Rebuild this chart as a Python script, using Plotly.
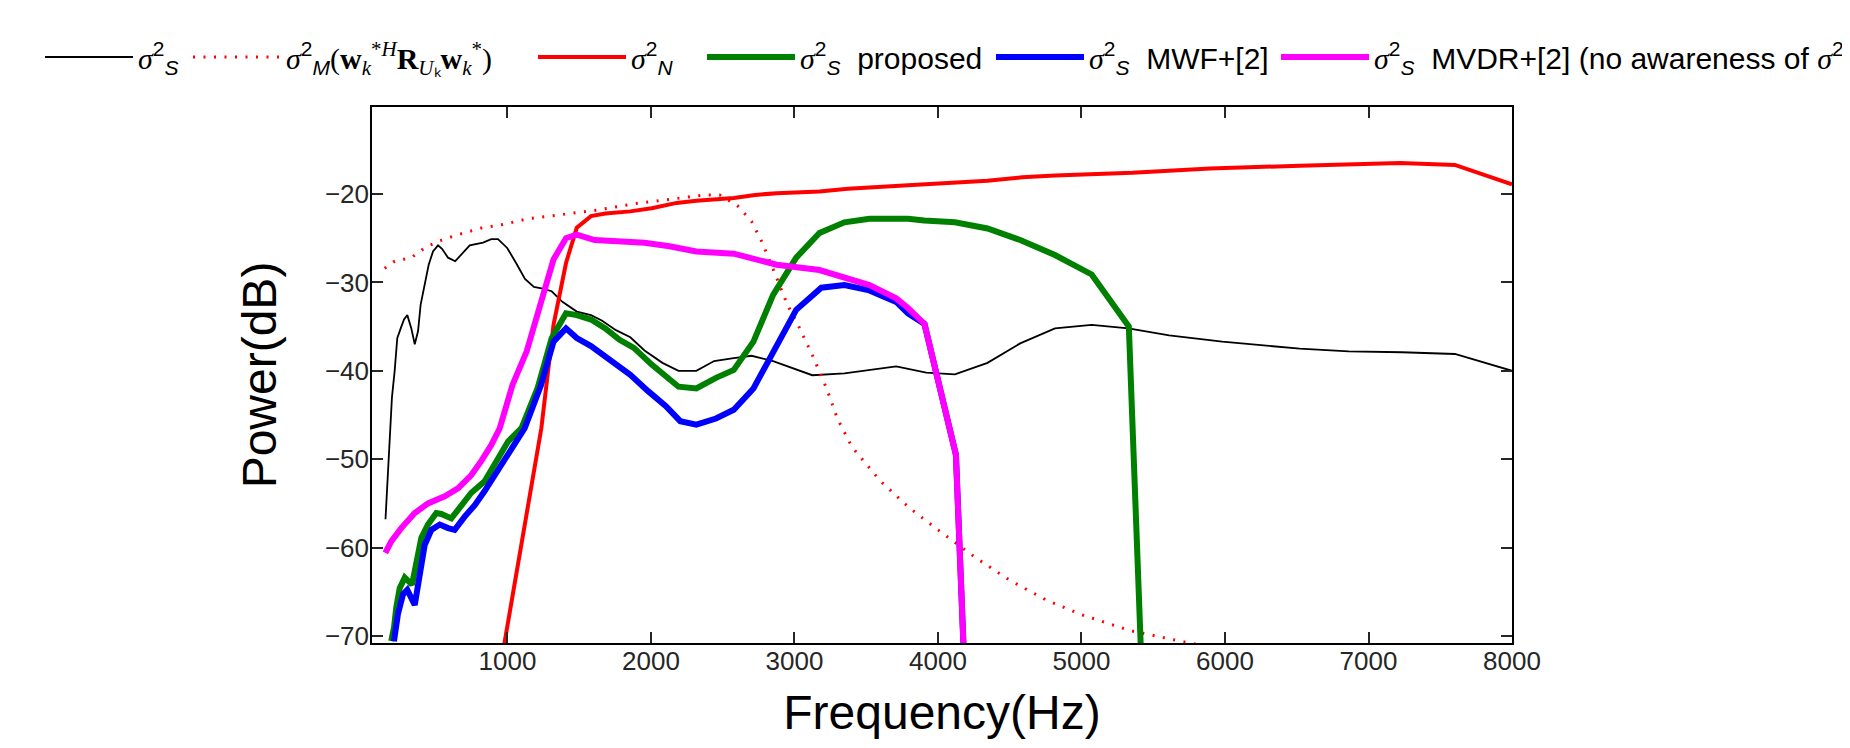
import plotly.graph_objects as go

# ---------------- data ----------------
f_sigS = [150, 180, 195, 214, 232, 256, 279, 302, 330, 354, 377, 395, 423, 451, 481, 516, 544, 586, 636, 683,
          737, 830, 887, 934, 998, 1060, 1122, 1184, 1246, 1308, 1383, 1483, 1582, 1657, 1756, 1856, 1955, 2080,
          2192, 2316, 2440, 2565, 2701, 2851, 3000, 3124, 3348, 3522, 3709, 3918, 4118, 4345, 4573, 4815, 5071,
          5327, 5611, 5981, 6521, 6862, 7232, 7602, 8000]
p_sigS = [-56.8, -46.5, -43.0, -40.0, -36.3, -35.2, -34.2, -33.7, -35.2, -37.0, -35.5, -32.5, -30.3, -28.0, -26.5,
          -25.8, -26.2, -27.2, -27.6, -26.8, -25.8, -25.5, -25.1, -25.1, -26.1, -27.8, -29.6, -30.5, -30.7, -31.0,
          -32.2, -33.3, -33.7, -34.3, -35.4, -36.2, -37.7, -39.1, -40.0, -40.0, -38.9, -38.6, -38.3, -38.9, -39.8,
          -40.5, -40.3, -39.9, -39.5, -40.2, -40.4, -39.1, -36.9, -35.2, -34.8, -35.2, -36.0, -36.7, -37.5, -37.8,
          -37.9, -38.1, -40.0]

f_sigM = [144, 214, 330, 423, 516, 655, 818, 981, 1143, 1400, 1632, 1881, 2129, 2378, 2478, 2602, 2701, 2776,
          2876, 2950, 3025, 3124, 3224, 3299, 3400, 3600, 3800, 4000, 4250, 4500, 4750, 5000, 5340, 5750, 6000]
p_sigM = [-28.4, -27.6, -27.2, -26.1, -25.35, -24.6, -23.85, -23.4, -22.8, -22.3, -21.8, -21.1, -20.6, -20.1,
          -20.1, -21.3, -23.1, -25.5, -29.5, -32.5, -34.8, -38.2, -42.0, -45.4, -48.6, -52.5, -55.5, -58.0,
          -61.0, -63.7, -65.9, -67.6, -69.4, -70.8, -71.5]

f_sigN = [960, 1236, 1321, 1408, 1483, 1582, 1682, 1856, 2005, 2179, 2316, 2478, 2577, 2726, 2876, 3174, 3373,
          3791, 4103, 4345, 4587, 4815, 5355, 5895, 6521, 6862, 7218, 7602, 8000]
p_sigN = [-72.6, -46.5, -34.8, -27.8, -23.8, -22.5, -22.2, -21.96, -21.6, -21.0, -20.75, -20.6, -20.45, -20.1,
          -19.9, -19.7, -19.4, -19.0, -18.7, -18.5, -18.1, -17.9, -17.6, -17.1, -16.8, -16.6, -16.5, -16.7, -18.9]

f_prop = [190, 209, 225, 249, 284, 319, 335, 400, 446, 504, 539, 609, 678, 748, 841, 911, 1004, 1097, 1209,
          1308, 1408, 1483, 1582, 1682, 1781, 1881, 2005, 2192, 2316, 2453, 2577, 2714, 2851, 3012, 3174, 3348,
          3522, 3791, 3904, 4118, 4345, 4573, 4815, 5071, 5330, 5415]
p_prop = [-70.6, -69.1, -66.8, -64.6, -63.4, -64.0, -64.2, -58.9, -57.4, -56.1, -56.2, -56.7, -55.2, -53.8,
          -52.5, -50.6, -48.0, -46.5, -42.0, -36.3, -33.5, -33.7, -34.2, -35.2, -36.5, -37.4, -39.3, -41.8, -42.0,
          -40.8, -39.9, -36.7, -31.4, -27.2, -24.4, -23.2, -22.8, -22.8, -23.0, -23.2, -23.9, -25.2, -26.9, -29.1,
          -35.0, -72.0]

f_mwf = [209, 237, 272, 302, 354, 388, 423, 470, 528, 586, 632, 702, 772, 841, 934, 1027, 1120, 1234, 1321,
         1408, 1483, 1582, 1682, 1781, 1856, 1980, 2104, 2204, 2316, 2453, 2577, 2714, 2851, 3012, 3187, 3348,
         3522, 3709, 3791, 3906, 4125, 4180]
p_mwf = [-70.6, -67.5, -65.3, -64.8, -66.5, -63.1, -59.7, -58.0, -57.4, -57.8, -58.0, -56.5, -55.2, -53.6,
         -51.2, -48.7, -46.5, -41.6, -36.7, -35.2, -36.3, -37.2, -38.4, -39.7, -40.45, -42.3, -44.0, -45.7, -46.1,
         -45.4, -44.4, -42.0, -37.8, -33.1, -30.6, -30.3, -30.9, -32.2, -33.5, -34.7, -49.5, -72.0]

f_mvdr = [149, 190, 260, 354, 446, 563, 655, 748, 818, 887, 946, 1035, 1134, 1234, 1321, 1408, 1483, 1607, 1781,
          1955, 2129, 2316, 2577, 2726, 2876, 3174, 3373, 3522, 3709, 3791, 3906, 4125, 4180]
p_mvdr = [-60.6, -59.3, -57.8, -56.1, -55.0, -54.2, -53.3, -51.8, -50.2, -48.4, -46.5, -41.6, -37.8, -32.2,
          -27.4, -25.0, -24.6, -25.2, -25.4, -25.5, -25.9, -26.5, -26.75, -27.4, -28.0, -28.6, -29.5, -30.3, -31.8,
          -32.9, -34.7, -49.5, -72.0]

x_ticks = [1000, 2000, 3000, 4000, 5000, 6000, 7000, 8000]
y_ticks = [-70, -60, -50, -40, -30, -20]

# ---------------- legend labels ----------------
SIG = '<span style="font-family:\'Liberation Serif\'"><i>σ</i></span>'
lab_S = SIG + '<sup>2</sup><sub><i>S</i></sub>'
lab_M = (SIG + '<sup>2</sup><sub><i>M</i></sub>'
         '<span style="font-family:\'Liberation Serif\'">(<b>w</b><sub><i>k</i></sub><sup>*<i>H</i></sup>'
         '<b>R</b><sub><i>U</i>ₖ</sub><b>w</b><sub><i>k</i></sub><sup>*</sup>)</span>')
lab_N = SIG + '<sup>2</sup><sub><i>N</i></sub>'
lab_P = SIG + '<sup>2</sup><sub><i>S</i></sub>  proposed'
lab_W = SIG + '<sup>2</sup><sub><i>S</i></sub>  MWF+[2]'
lab_V = (SIG + '<sup>2</sup><sub><i>S</i></sub>  MVDR+[2] (no awareness of ' + SIG +
         '<sup>2</sup><sub><i>M</i></sub>)')

series = [
    (f_sigS, p_sigS, lab_S, dict(color='black', width=1.8), 'legend'),
    (f_sigM, p_sigM, lab_M, dict(color='red', width=3, dash='2px,8.5px'), 'legend2'),
    (f_sigN, p_sigN, lab_N, dict(color='red', width=4), 'legend3'),
    (f_prop, p_prop, lab_P, dict(color='#008000', width=6), 'legend4'),
    (f_mwf, p_mwf, lab_W, dict(color='blue', width=6), 'legend5'),
    (f_mvdr, p_mvdr, lab_V, dict(color='magenta', width=6), 'legend6'),
]

fig = go.Figure()
for fx, py, name, line, lg in series:
    fig.add_trace(go.Scatter(x=fx, y=py, mode='lines', name=name, line=line, legend=lg))

W, H = 1850, 748
L, R, T, B = 364, 346, 99, 113
pw, ph = W - L - R, H - T - B

def px2paper_x(px):
    return (px - L) / pw

def px2paper_y(py):
    return (H - B - py) / ph

legend_left_px = [32, 180, 525, 694, 983, 1268]
legend_common = dict(orientation='h', xanchor='left', yanchor='middle', itemwidth=88,
                     bgcolor='rgba(0,0,0,0)', borderwidth=0,
                     font=dict(family='Liberation Sans', size=30, color='black'))
legend_names = ['legend', 'legend2', 'legend3', 'legend4', 'legend5', 'legend6']
lay = {}
for nm, lx in zip(legend_names, legend_left_px):
    lay[nm] = dict(x=px2paper_x(lx), y=px2paper_y(49), **legend_common)

axis_common = dict(showline=True, linecolor='black', linewidth=1.5, mirror='ticks', ticks='inside',
                   ticklen=11, tickwidth=1.5, tickcolor='#262626', showgrid=False, zeroline=False,
                   tickfont=dict(family='Liberation Sans', size=26, color='#262626'))

fig.update_layout(
    width=W, height=H,
    margin=dict(l=L, r=R, t=T, b=B, autoexpand=False),
    paper_bgcolor='white', plot_bgcolor='white',
    showlegend=True,
    xaxis=dict(range=[56, 8000], tickvals=x_ticks, ticktext=[str(v) for v in x_ticks],
               ticklabelstandoff=-6,
               title=dict(text='Frequency(Hz)', font=dict(family='Liberation Sans', size=48, color='black'),
                          standoff=20),
               **axis_common),
    yaxis=dict(range=[-70.8, -10.15], tickvals=y_ticks, ticktext=['−70', '−60', '−50', '−40', '−30', '−20'],
               ticklabelstandoff=-4,
               title=dict(text='Power(dB)', font=dict(family='Liberation Sans', size=48, color='black'),
                          standoff=33),
               **axis_common),
    **lay,
)

fig.write_html('out.html')
